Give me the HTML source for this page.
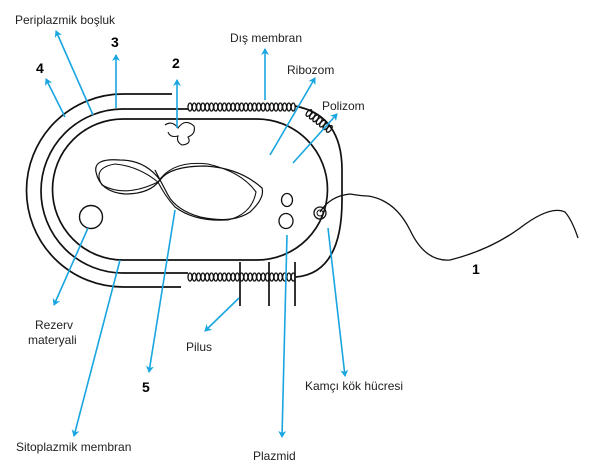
<!DOCTYPE html>
<html><head><meta charset="utf-8"><style>
html,body{margin:0;padding:0;background:#fff;}
svg{display:block;}
text{font-family:"Liberation Sans",sans-serif;fill:#222;font-size:12px;}
.b{font-weight:bold;font-size:14px;fill:#000;}
.c ellipse{fill:none;stroke:#111;stroke-width:1.3;}
</style></head><body>
<svg width="601" height="469" viewBox="0 0 601 469" xmlns="http://www.w3.org/2000/svg">
<defs>
<marker id="a" markerWidth="8" markerHeight="8" refX="6" refY="4" orient="auto" markerUnits="userSpaceOnUse">
<path d="M0,0 L7,4 L0,8 L2,4 z" fill="#19a6e0"/>
</marker>
<g id="ch" class="c">
<ellipse cx="0" cy="0" rx="2" ry="4"/><ellipse cx="4.3" cy="0" rx="2" ry="4"/><ellipse cx="8.6" cy="0" rx="2" ry="4"/><ellipse cx="12.9" cy="0" rx="2" ry="4"/><ellipse cx="17.2" cy="0" rx="2" ry="4"/>
</g>
<g id="ch25">
<use href="#ch" x="0"/><use href="#ch" x="21.5"/><use href="#ch" x="43"/><use href="#ch" x="64.5"/><use href="#ch" x="86"/>
</g>
</defs>
<g fill="none" stroke="#111" stroke-width="1.7">
<path d="M123,119 H257 A70.5,70.5 0 0 1 257,260 H123 A70.5,70.5 0 0 1 123,119 Z"/>
<path d="M188,109 H123 A82,82 0 0 0 123,273 H188"/>
<path d="M295,106 Q342,115 342,170 V200 Q342,273 296,277"/>
<path d="M172,94 H123 A96.5,96.5 0 0 0 123,287 H181"/>
<path d="M240,262 V306 M269,262 V306 M295,262 V306"/>
<path d="M320,212 Q330,196 350,194 Q362,196 368,196 Q395,200 410,230 Q425,262 450,260 Q490,250 520,228 Q550,205 565,212 Q572,220 578,238" stroke-width="1.3"/>
<circle cx="320" cy="213" r="6" stroke-width="1.3"/>
<circle cx="320" cy="213" r="3" stroke-width="1"/>
<circle cx="91" cy="217" r="11.5" stroke-width="1.4"/>
<ellipse cx="287" cy="200" rx="5.5" ry="6.5" stroke-width="1.3"/>
<ellipse cx="286" cy="221" rx="7" ry="7.5" stroke-width="1.3"/>
<path d="M160,180 Q145,160 120,160 Q93,158 96,172 Q100,192 125,194 Q150,194 160,180 Q170,166 205,166 Q240,168 262,188 Q265,198 250,212 Q232,224 200,217 Q176,210 168,195 Q160,180 155,170" stroke-width="1.2"/>
<path d="M158,182 Q138,166 115,164 Q92,168 102,185 Q125,198 158,182 Q172,160 208,164 Q242,172 256,192 Q252,214 228,220 Q195,222 175,207 Q165,196 158,182" stroke-width="1.1"/>
<path d="M165,125 Q172,120 178,128 Q185,118 194,126 Q196,134 188,137 Q192,144 182,145 Q176,142 178,136 Q170,138 168,132" stroke-width="1.1"/>
</g>
<use href="#ch25" x="190" y="107"/>
<use href="#ch25" x="190" y="277"/>
<g transform="translate(309,113) rotate(38)" class="c">
<ellipse cx="0" cy="0" rx="2" ry="4"/><ellipse cx="4.3" cy="0" rx="2" ry="4"/><ellipse cx="8.6" cy="0" rx="2" ry="4"/><ellipse cx="12.9" cy="0" rx="2" ry="4"/><ellipse cx="17.2" cy="0" rx="2" ry="4"/><ellipse cx="21.5" cy="0" rx="2" ry="4"/><ellipse cx="25.8" cy="0" rx="2" ry="4"/>
</g>
<g stroke="#19a6e0" stroke-width="1.6" fill="none" marker-end="url(#a)">
<line x1="93" y1="115" x2="56" y2="31"/>
<line x1="116" y1="108" x2="116" y2="55"/>
<line x1="65" y1="117" x2="46" y2="79"/>
<line x1="177" y1="128" x2="177" y2="80"/>
<line x1="265" y1="100" x2="265" y2="49"/>
<line x1="270" y1="155" x2="315" y2="78"/>
<line x1="293" y1="163" x2="337" y2="114"/>
<line x1="88" y1="228" x2="54" y2="305"/>
<line x1="175" y1="210" x2="149" y2="372"/>
<line x1="239" y1="298" x2="205" y2="331"/>
<line x1="287" y1="235" x2="282" y2="437"/>
<line x1="328" y1="228" x2="345" y2="376"/>
<line x1="120" y1="260" x2="74" y2="436"/>
</g>
<text x="15" y="24">Periplazmik boşluk</text>
<text x="111" y="47" class="b">3</text>
<text x="36" y="73" class="b">4</text>
<text x="172" y="68" class="b">2</text>
<text x="230" y="42">Dış membran</text>
<text x="287" y="74">Ribozom</text>
<text x="322" y="110">Polizom</text>
<text x="35" y="329">Rezerv</text>
<text x="28" y="344">materyali</text>
<text x="186" y="351">Pilus</text>
<text x="142" y="392" class="b">5</text>
<text x="305" y="390">Kamçı kök hücresi</text>
<text x="472" y="274" class="b">1</text>
<text x="16" y="451">Sitoplazmik membran</text>
<text x="253" y="460">Plazmid</text>
</svg>
</body></html>
